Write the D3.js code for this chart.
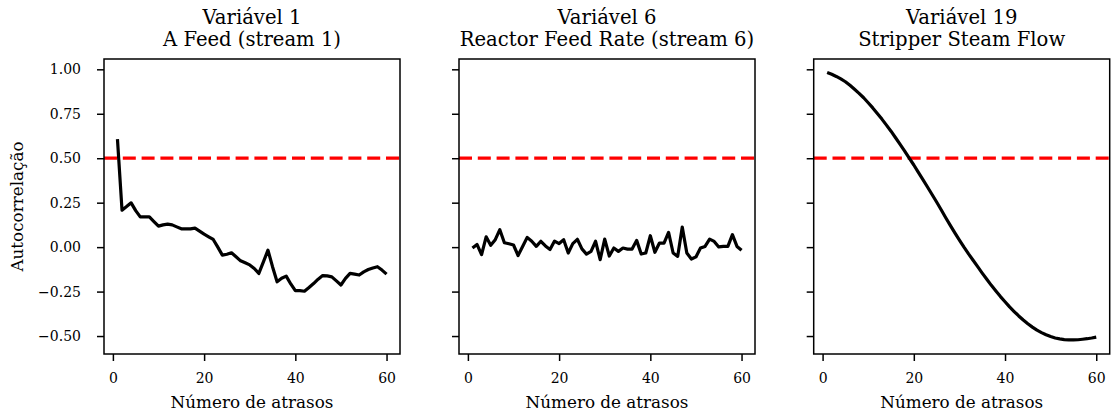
<!DOCTYPE html>
<html>
<head>
<meta charset="utf-8">
<script src="https://cdn.jsdelivr.net/npm/d3@7"></script>
<style>
  html, body { margin: 0; padding: 0; background: #fff; }
  svg { display: block; font-family: "DejaVu Serif", serif; }
</style>
</head>
<body>
<svg id="chart" width="1111" height="418"></svg>
<script>
// ---- Data ----
const lags = d3.range(1, 61);

const titles = [
  ["Variável 1", "A Feed (stream 1)"],
  ["Variável 6", "Reactor Feed Rate (stream 6)"],
  ["Variável 19", "Stripper Steam Flow"]
];

const acfVar1 = [
  0.607, 0.208, 0.228, 0.249, 0.205, 0.170, 0.170, 0.170, 0.144, 0.118,
  0.125, 0.129, 0.125, 0.114, 0.103, 0.103, 0.103, 0.107, 0.090, 0.073,
  0.058, 0.043, 0.000, -0.045, -0.040, -0.032, -0.054, -0.077, -0.088, -0.100,
  -0.120, -0.148, -0.083, -0.017, -0.110, -0.195, -0.175, -0.163, -0.207, -0.245,
  -0.245, -0.248, -0.227, -0.205, -0.180, -0.160, -0.162, -0.167, -0.190, -0.213,
  -0.176, -0.148, -0.152, -0.157, -0.139, -0.126, -0.117, -0.110, -0.129, -0.152
];

const acfVar6 = [
  -0.005, 0.015, -0.042, 0.058, 0.010, 0.042, 0.098, 0.025, 0.019, 0.012,
  -0.047, 0.004, 0.055, 0.033, 0.004, 0.033, 0.007, -0.013, 0.034, 0.020,
  0.042, -0.033, 0.020, 0.044, -0.010, -0.039, -0.024, 0.033, -0.070, 0.045,
  -0.050, -0.005, -0.024, -0.005, -0.011, -0.011, 0.038, -0.039, -0.033, 0.064,
  -0.029, 0.023, 0.023, 0.083, -0.033, -0.052, 0.113, -0.033, -0.067, -0.055,
  -0.005, 0.004, 0.045, 0.032, 0.001, 0.004, 0.004, 0.070, 0.004, -0.018
];

const acfVar19 = [
  0.982, 0.972, 0.960, 0.946, 0.930, 0.910, 0.888, 0.865, 0.840, 0.812,
  0.783, 0.752, 0.720, 0.686, 0.652, 0.615, 0.578, 0.540, 0.500, 0.462,
  0.420, 0.380, 0.338, 0.296, 0.254, 0.210, 0.165, 0.122, 0.080, 0.040,
  0.000, -0.038, -0.074, -0.110, -0.146, -0.181, -0.215, -0.247, -0.278, -0.307,
  -0.336, -0.362, -0.387, -0.410, -0.431, -0.450, -0.467, -0.481, -0.493, -0.503,
  -0.511, -0.516, -0.520, -0.522, -0.522, -0.521, -0.518, -0.515, -0.511, -0.506
];

const series = [acfVar1, acfVar6, acfVar19];
const threshold = 0.5;
const xTicks = [0, 20, 40, 60];
const yTicks = [-0.5, -0.25, 0, 0.25, 0.5, 0.75, 1.0];

// ---- Layout ----
const svg = d3.select("#chart");
const panelLefts = [104, 459, 813.7];
const panelW = 296;
const plotTop = 59, plotBottom = 354;
const tickFont = 14, labelFont = 16.8, titleFont = 19.6;

const y = d3.scaleLinear().domain([-0.601, 1.058]).range([plotBottom, plotTop]);

series.forEach((vals, i) => {
  const left = panelLefts[i];
  const x = d3.scaleLinear().domain([-1.95, 62.95]).range([left, left + panelW]);
  const g = svg.append("g");

  // threshold line
  g.append("line")
    .attr("x1", left).attr("x2", left + panelW)
    .attr("y1", y(threshold)).attr("y2", y(threshold))
    .attr("stroke", "#ff0000").attr("stroke-width", 3.2)
    .attr("stroke-dasharray", "13,5.8");

  // data line
  const line = d3.line().x((d, j) => x(lags[j])).y(d => y(d));
  g.append("path").datum(vals)
    .attr("d", line)
    .attr("fill", "none").attr("stroke", "#000")
    .attr("stroke-width", 3.2).attr("stroke-linejoin", "round");

  // x axis
  const xAxis = d3.axisBottom(x).tickValues(xTicks).tickSize(7).tickPadding(12)
    .tickFormat(d3.format("d"));
  const gx = g.append("g").attr("transform", `translate(0,${plotBottom})`).call(xAxis);
  gx.select(".domain").remove();
  gx.selectAll(".tick line").attr("stroke", "#000").attr("stroke-width", 1.5);
  gx.selectAll(".tick text").attr("font-family", "DejaVu Serif").attr("font-size", tickFont).attr("fill", "#000");

  // y axis
  const yAxis = d3.axisLeft(y).tickValues(yTicks).tickSize(7).tickPadding(16)
    .tickFormat(i === 0 ? (d => d3.format(".2f")(d).replace("-", "\u2212")) : () => "");
  const gy = g.append("g").attr("transform", `translate(${left},0)`).call(yAxis);
  gy.select(".domain").remove();
  gy.selectAll(".tick line").attr("stroke", "#000").attr("stroke-width", 1.5);
  gy.selectAll(".tick text").attr("font-family", "DejaVu Serif").attr("font-size", tickFont).attr("fill", "#000");

  // frame
  g.append("rect")
    .attr("x", left).attr("y", plotTop).attr("width", panelW).attr("height", plotBottom - plotTop)
    .attr("fill", "none").attr("stroke", "#000").attr("stroke-width", 1.5);

  // title
  const cx = left + panelW / 2;
  const t = g.append("text").attr("text-anchor", "middle")
    .attr("font-family", "DejaVu Serif").attr("font-size", titleFont).attr("fill", "#000");
  t.append("tspan").attr("x", cx).attr("y", 24).text(titles[i][0]);
  t.append("tspan").attr("x", cx).attr("y", 46).text(titles[i][1]);

  // x label
  g.append("text").attr("x", cx).attr("y", 408).attr("text-anchor", "middle")
    .attr("font-family", "DejaVu Serif").attr("font-size", labelFont).attr("fill", "#000")
    .text("Número de atrasos");
});

// y label
svg.append("text")
  .attr("transform", `translate(23,${(plotTop + plotBottom) / 2}) rotate(-90)`)
  .attr("text-anchor", "middle")
  .attr("font-family", "DejaVu Serif").attr("font-size", labelFont).attr("fill", "#000")
  .text("Autocorrelação");
</script>
</body>
</html>
